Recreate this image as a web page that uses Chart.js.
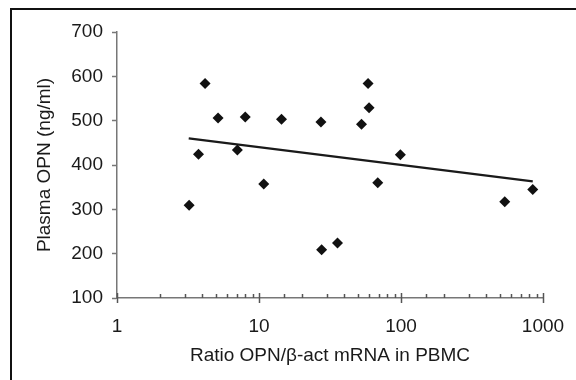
<!DOCTYPE html>
<html>
<head>
<meta charset="utf-8">
<script src="https://cdn.jsdelivr.net/npm/chart.js@4"></script>
<style>
  html, body { margin: 0; padding: 0; background: #fff; overflow: hidden; }
</style>
</head>
<body>
<canvas id="myChart" width="576" height="380"></canvas>
<script>
// OPN mRNA ratio vs plasma OPN
const ratio = [3.22, 3.75, 4.17, 5.15, 7.04, 8.0, 10.8, 14.4, 27.3, 27.6, 35.7, 52.7, 58.6, 59.6, 68.6, 99, 538, 847]
const plasma = [309, 424, 584, 506, 434, 508, 357, 503, 497, 209, 224, 492, 584, 529, 360, 423, 317, 345]
const fitX = [3.2, 847]
const fitY = [460, 363]
const yTicks = [100, 200, 300, 400, 500, 600, 700]

const font = { family: 'Liberation Sans, Arial, sans-serif', size: 19 }

// figure frame (open on the right and bottom, as in the cropped original)
const frame = {
  id: 'frame',
  beforeDraw (chart) {
    const ctx = chart.ctx
    ctx.save()
    ctx.fillStyle = '#fff'
    ctx.fillRect(0, 0, chart.width, chart.height)
    ctx.strokeStyle = '#111'
    ctx.lineWidth = 2
    ctx.beginPath()
    ctx.moveTo(11, chart.height)
    ctx.lineTo(11, 9)
    ctx.lineTo(chart.width, 9)
    ctx.stroke()
    ctx.restore()
  }
}

// small upward minor ticks and crossing major ticks on the log axis
const xTickMarks = {
  id: 'xTickMarks',
  afterDraw (chart) {
    const sc = chart.scales.x
    const ctx = chart.ctx
    const y = sc.top
    ctx.save()
    ctx.strokeStyle = '#555'
    ctx.lineWidth = 1.5
    sc.ticks.forEach(t => {
      const px = Math.round(sc.getPixelForValue(t.value)) + 0.5
      const major = Math.abs(Math.log10(t.value) - Math.round(Math.log10(t.value))) < 1e-9
      ctx.beginPath()
      if (major) {
        ctx.moveTo(px, y - 5)
        ctx.lineTo(px, y + 5)
      } else {
        ctx.moveTo(px, y - 4)
        ctx.lineTo(px, y)
      }
      ctx.stroke()
    })
    ctx.restore()
  }
}

const myChartRef = document.getElementById('myChart').getContext('2d')

new Chart(myChartRef, {
  type: 'scatter',
  data: {
    datasets: [
      {
        label: 'Samples',
        data: ratio.map((r, i) => ({ x: r, y: plasma[i] })),
        pointStyle: 'rectRot',
        pointRadius: 5.5,
        backgroundColor: '#111',
        borderColor: '#111',
        borderWidth: 0
      },
      {
        label: 'Fit',
        type: 'line',
        data: fitX.map((r, i) => ({ x: r, y: fitY[i] })),
        borderColor: '#1a1a1a',
        borderWidth: 2.2,
        pointRadius: 0,
        fill: false
      }
    ]
  },
  options: {
    responsive: false,
    animation: false,
    layout: { padding: { top: 32, right: 33, left: 0, bottom: 0 } },
    plugins: { legend: { display: false }, tooltip: { enabled: false } },
    scales: {
      x: {
        type: 'logarithmic',
        min: 1,
        max: 1000,
        afterFit (scale) {
          scale.height = 82
          scale.paddingLeft = 0
          scale.paddingRight = 0
        },
        border: { display: true, color: '#777', width: 1.5 },
        grid: { display: true, drawOnChartArea: false, drawTicks: false },
        ticks: {
          autoSkip: false,
          maxRotation: 0,
          padding: 17,
          color: '#1a1a1a',
          font,
          callback (v) {
            const l = Math.log10(v)
            return Math.abs(l - Math.round(l)) < 1e-9 ? String(v) : ''
          }
        },
        title: {
          display: true,
          text: 'Ratio OPN/β-act mRNA in PBMC',
          color: '#1a1a1a',
          font,
          padding: { top: 0, bottom: 13 }
        }
      },
      y: {
        min: 100,
        max: 700,
        afterFit (scale) { scale.width = 117 },
        afterBuildTicks (scale) { scale.ticks = yTicks.map(v => ({ value: v })) },
        border: { display: true, color: '#777', width: 1.5 },
        grid: { display: true, drawOnChartArea: false, drawTicks: true, tickLength: 5, tickColor: '#777', tickWidth: 1.5 },
        ticks: { padding: 9, color: '#1a1a1a', font },
        title: {
          display: true,
          text: 'Plasma OPN (ng/ml)',
          color: '#1a1a1a',
          font,
          padding: { top: 33, bottom: 0 }
        }
      }
    }
  },
  plugins: [frame, xTickMarks]
})
</script>
</body>
</html>
